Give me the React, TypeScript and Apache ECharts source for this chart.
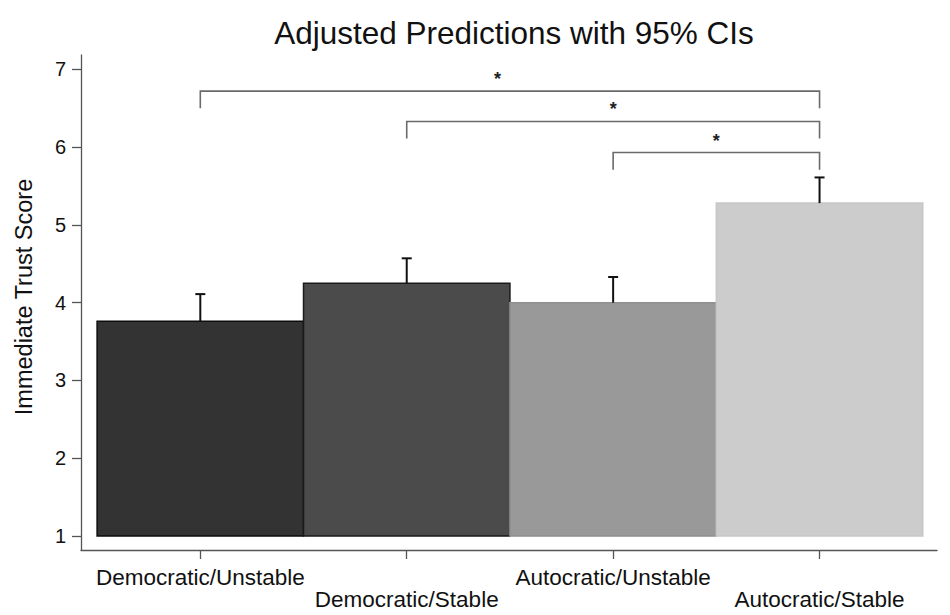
import React, { useEffect, useRef } from "react";
import * as echarts from "echarts";

const categories = [
  "Democratic/Unstable",
  "Democratic/Stable",
  "Autocratic/Unstable",
  "Autocratic/Stable",
];
const means = [3.76, 4.25, 4.0, 5.28];
const upperCI = [4.11, 4.57, 4.33, 5.61];
const yTicks = [1, 2, 3, 4, 5, 6, 7];
const xTicks = [0, 1, 2, 3];
const barColors = ["#333333", "#4b4b4b", "#999999", "#cccccc"];
const barBorders = ["#0d0d0d", "#1a1a1a", "#8f8f8f", "#c6c6c6"];
// significance brackets: from category -> to category, height, asterisk x
const bracketFrom = [0, 1, 2];
const bracketTo = [3, 3, 3];
const bracketY = [6.72, 6.33, 5.93];
const bracketDrop = 0.22;
const starX = [1.44, 2.0, 2.5];
const starLabels = ["*", "*", "*"];

const FONT = "'Liberation Sans', Arial, Helvetica, sans-serif";

export default function App() {
  const ref = useRef<HTMLDivElement>(null);
  useEffect(() => {
    if (!ref.current) return;
    const chart = echarts.init(ref.current, null, { renderer: "svg" });
    const barData = means.map((m, i) => [i, m]);
    const errData = means.map((m, i) => [i, m, upperCI[i]]);
    const brData = bracketFrom.map((f, i) => [f, bracketTo[i], bracketY[i], starX[i]]);
    chart.setOption({
      animation: false,
      backgroundColor: "#ffffff",
      title: {
        text: "Adjusted Predictions with 95% CIs",
        left: 509,
        top: 12,
        textAlign: "center",
        textStyle: { fontFamily: FONT, fontSize: 31.5, fontWeight: "normal", color: "#111" },
      },
      graphic: [
        {
          type: "text",
          x: 24,
          y: 297,
          rotation: Math.PI / 2,
          style: {
            text: "Immediate Trust Score",
            font: `23.5px ${FONT}`,
            fill: "#111",
            textAlign: "center",
            textVerticalAlign: "middle",
          },
        },
      ],
      grid: { left: 81, right: 13, top: 55, bottom: 65, containLabel: false },
      xAxis: {
        type: "value",
        min: -0.578,
        max: 3.569,
        splitLine: { show: false },
        axisLine: { show: true, onZero: false, lineStyle: { color: "#555", width: 1.3 } },
        axisTick: { show: true, length: 9, customValues: xTicks, lineStyle: { color: "#555", width: 1.3 } },
        axisLabel: {
          customValues: xTicks,
          margin: 16,
          fontFamily: FONT,
          fontSize: 22.5,
          lineHeight: 22,
          color: "#111",
          formatter: (v: number) => {
            const i = Math.round(v);
            return (i % 2 === 1 ? "\n" : "") + categories[i];
          },
        },
      },
      yAxis: {
        type: "value",
        min: 0.82,
        max: 7.184,
        splitLine: { show: false },
        axisLine: { show: true, onZero: false, lineStyle: { color: "#555", width: 1.3 } },
        axisTick: { show: true, length: 9, customValues: yTicks, lineStyle: { color: "#555", width: 1.3 } },
        axisLabel: {
          customValues: yTicks,
          margin: 15,
          fontFamily: FONT,
          fontSize: 20,
          color: "#111",
        },
      },
      series: [
        {
          type: "custom",
          name: "bars",
          data: barData,
          z: 2,
          renderItem: (params: any, api: any) => {
            const x = api.value(0);
            const y = api.value(1);
            const p0 = api.coord([x - 0.5, 1]);
            const p1 = api.coord([x + 0.5, y]);
            const i = params.dataIndex;
            return {
              type: "rect",
              shape: { x: p0[0], y: p1[1], width: p1[0] - p0[0], height: p0[1] - p1[1] },
              style: { fill: barColors[i], stroke: barBorders[i], lineWidth: 1.5 },
            };
          },
        },
        {
          type: "custom",
          name: "ci",
          data: errData,
          z: 3,
          renderItem: (params: any, api: any) => {
            const x = api.value(0);
            const lo = api.coord([x, api.value(1)]);
            const hi = api.coord([x, api.value(2)]);
            return {
              type: "group",
              children: [
                { type: "line", shape: { x1: lo[0], y1: lo[1], x2: hi[0], y2: hi[1] }, style: { stroke: "#111", lineWidth: 2 } },
                { type: "line", shape: { x1: hi[0] - 5, y1: hi[1], x2: hi[0] + 5, y2: hi[1] }, style: { stroke: "#111", lineWidth: 2 } },
              ],
            };
          },
        },
        {
          type: "custom",
          name: "brackets",
          data: brData,
          z: 3,
          renderItem: (params: any, api: any) => {
            const a = api.value(0);
            const b = api.value(1);
            const h = api.value(2);
            const sx = api.value(3);
            const pa = api.coord([a, h]);
            const pb = api.coord([b, h]);
            const pad = api.coord([a, h - bracketDrop]);
            const pbd = api.coord([b, h - bracketDrop]);
            const ps = api.coord([sx, h]);
            return {
              type: "group",
              children: [
                {
                  type: "polyline",
                  shape: { points: [[pad[0], pad[1]], [pa[0], pa[1]], [pb[0], pb[1]], [pbd[0], pbd[1]]] },
                  style: { stroke: "#6a6a6a", lineWidth: 1.6, fill: "none" },
                },
                {
                  type: "text",
                  x: ps[0],
                  y: ps[1] - 12,
                  style: {
                    text: starLabels[params.dataIndex],
                    font: `bold 18px ${FONT}`,
                    fill: "#222",
                    textAlign: "center",
                    textVerticalAlign: "middle",
                  },
                },
              ],
            };
          },
        },
      ],
    });
    return () => chart.dispose();
  }, []);
  return (
    <div
      ref={ref}
      style={{ position: "absolute", left: 0, top: 0, width: 950, height: 615 }}
    />
  );
}
